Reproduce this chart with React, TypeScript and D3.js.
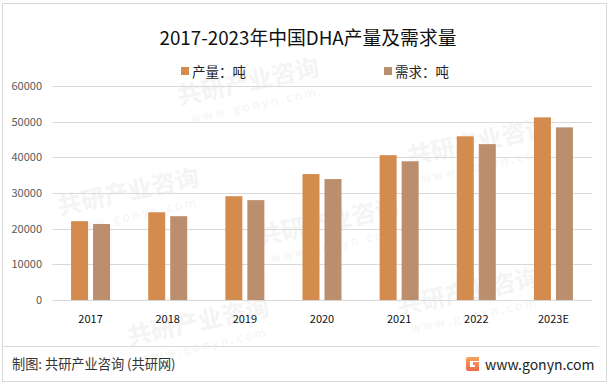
import React from "react";
import * as d3 from "d3";

const categories = ["2017", "2018", "2019", "2020", "2021", "2022", "2023E"];
const production = [22100, 24600, 29100, 35300, 40600, 45900, 51200];
const demand = [21300, 23500, 28000, 33900, 38900, 43700, 48400];
const yTicks = [0, 10000, 20000, 30000, 40000, 50000, 60000];
const seriesNames = ["产量：吨", "需求：吨"];
const colors = ["#D38B4E", "#BB8E6D"];

const W = 611, H = 385;
const plot = { left: 52, right: 592, top: 86, bottom: 300 };
const font = "'Noto Sans CJK SC', 'Noto Sans', sans-serif";

export default function App() {
  const x = d3.scaleBand<string>().domain(categories).range([plot.left, plot.right]).paddingInner(0).paddingOuter(0);
  const y = d3.scaleLinear().domain([0, 60000]).range([plot.bottom, plot.top]);
  const barW = 17, gap = 5;
  const series = [production, demand];

  const wmPos = [[250, 90], [480, 150], [130, 200], [330, 230], [200, 330], [470, 300]];

  return (
    <svg width={W} height={H} style={{ position: "absolute", left: 0, top: 0 }} fontFamily={font}>
      <rect x={0} y={0} width={W} height={H} fill="#fff" />
      <rect x={2.5} y={3.5} width={604} height={378} fill="none" stroke="#d9d9d9" strokeWidth={1} />
      <g>
        {wmPos.map(([wx, wy], i) => (
          <g key={i} transform={`rotate(-12 ${wx} ${wy})`}>
            <text x={wx} y={wy} fontSize={24} fontWeight={700} fill="#f4f4f4" textAnchor="middle">共研产业咨询</text>
            <text x={wx} y={wy + 20} fontSize={12} fill="#f4f4f4" textAnchor="middle">w w w . g o n y n . c o m</text>
          </g>
        ))}
      </g>
      <text x={308} y={45} textAnchor="middle" fontSize={18.8} fill="#111">2017-2023年中国DHA产量及需求量</text>
      {seriesNames.map((n, i) => (
        <g key={n} transform={`translate(${i === 0 ? 181 : 384},0)`}>
          <rect x={0} y={67} width={8} height={8} fill={colors[i]} />
          <text x={11} y={76.5} fontSize={13.5} fill="#222">{n}</text>
        </g>
      ))}
      {yTicks.map((t) => (
        <g key={t}>
          <line x1={plot.left} x2={plot.right} y1={Math.round(y(t)) + 0.5} y2={Math.round(y(t)) + 0.5} stroke="#d9d9d9" strokeWidth={1} />
          <text x={42} y={y(t) + 4} textAnchor="end" fontSize={11} fill="#595959">{t}</text>
        </g>
      ))}
      {categories.map((c, ci) => {
        const cx = (x(c) as number) + x.bandwidth() / 2;
        return (
          <g key={c}>
            {series.map((s, si) => {
              const bx = si === 0 ? cx - gap / 2 - barW : cx + gap / 2;
              return <rect key={si} x={bx} y={y(s[ci])} width={barW} height={y(0) - y(s[ci])} fill={colors[si]} />;
            })}
            <text x={cx} y={323} textAnchor="middle" fontSize={11} fill="#111">{c}</text>
          </g>
        );
      })}
      <line x1={3} x2={599} y1={346.5} y2={346.5} stroke="#d9d9d9" strokeWidth={1} />
      <text x={12} y={369} fontSize={13.2} fill="#333">制图: 共研产业咨询 (共研网)</text>
      <g transform="translate(466,357)">
        <defs>
          <linearGradient id="lg" x1="0" y1="0" x2="0" y2="1">
            <stop offset="0" stopColor="#f6a35b" />
            <stop offset="1" stopColor="#ee6a4a" />
          </linearGradient>
        </defs>
        <path d="M0,2 Q0,0 2,0 L13,0 L13,4 L4,4 L4,10 L9,10 L9,8 L7,8 L7,5 L13,5 L13,14 L2,14 Q0,14 0,12 Z" fill="url(#lg)" />
      </g>
      <text x={485} y={370} fontSize={14} fill="#222">www.gonyn.com</text>
    </svg>
  );
}
